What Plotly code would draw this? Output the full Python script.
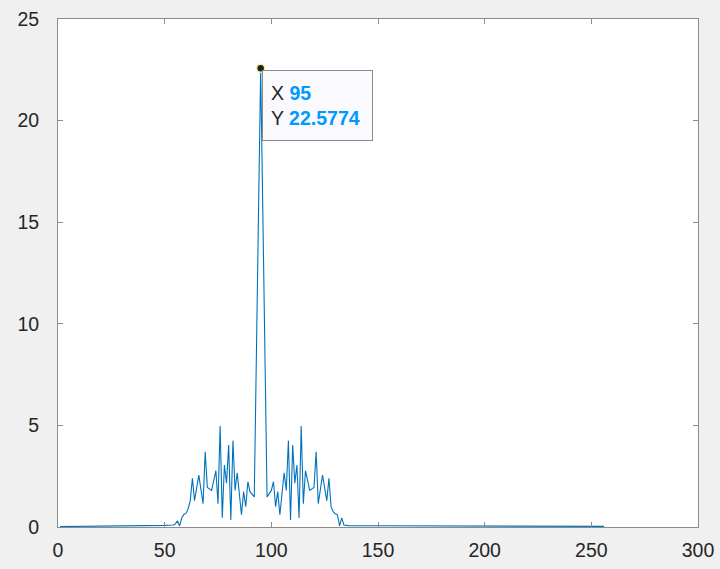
import plotly.graph_objects as go

# spectrum samples (index -> magnitude)
x_vals = [1, 20, 35, 45, 50, 54, 55, 56, 57, 58, 59, 60, 61, 62, 63, 64, 66, 68, 69, 70,
          72, 74, 75, 76, 77, 78, 79, 80, 81, 82, 83, 84, 86, 87, 88, 89, 90, 92, 95,
          98, 100, 101, 102, 103, 104, 106, 107, 108, 109, 110, 111, 112, 113, 114, 115,
          116, 118, 120, 121, 122, 124, 126, 127, 128, 129, 130, 131, 132, 133, 134, 135,
          136, 150, 200, 256]
y_vals = [0.02, 0.03, 0.05, 0.07, 0.08, 0.10, 0.15, 0.30, 0.05, 0.45, 0.62, 0.67, 0.90, 1.30,
          2.40, 1.30, 2.55, 1.15, 3.70, 1.95, 1.80, 2.77, 1.15, 4.97, 0.45, 3.05, 2.15, 4.03,
          0.34, 4.25, 1.80, 2.67, 0.60, 1.74, 1.00, 2.23, 1.74, 1.48, 22.5774,
          1.48, 1.80, 2.23, 1.00, 1.74, 0.60, 2.67, 1.80, 4.25, 0.34, 4.03, 2.15, 3.05, 0.45,
          4.97, 1.15, 2.77, 1.80, 1.95, 3.70, 1.15, 2.55, 1.30, 2.40, 1.00, 0.75, 0.65, 0.60,
          0.05, 0.45, 0.10, 0.08, 0.07, 0.06, 0.04, 0.03]

tip_x = 95
tip_y = 22.5774

x_ticks = [0, 50, 100, 150, 200, 250, 300]
y_ticks = [0, 5, 10, 15, 20, 25]

fig = go.Figure()
fig.add_trace(go.Scatter(x=x_vals, y=y_vals, mode="lines",
                         line=dict(color="#0072BD", width=1.1), hoverinfo="skip"))
fig.add_trace(go.Scatter(x=[tip_x], y=[tip_y], mode="markers",
                         marker=dict(color="#202020", size=8,
                                     line=dict(color="#f3eeb0", width=1.5)),
                         hoverinfo="skip"))

blue = "#0099FF"
fig.add_annotation(
    x=tip_x, y=tip_y, xref="x", yref="y",
    xanchor="left", yanchor="top", xshift=1, yshift=-2,
    showarrow=False, align="left", valign="middle",
    width=93, height=53, borderpad=8,
    bgcolor="#f9f9fe", bordercolor="#8a8a8a", borderwidth=1,
    font=dict(family="Liberation Sans, Arial", size=19.5, color="#262626"),
    text=f"X <b><span style='color:{blue}'>{tip_x}</span></b><br>"
         f"Y <b><span style='color:{blue}'>{tip_y}</span></b>",
)

axis_common = dict(
    showgrid=False, zeroline=False, showline=True, linecolor="#8c8c8c", linewidth=1,
    mirror="ticks", ticks="inside", ticklen=5, tickcolor="#8c8c8c", tickwidth=1,
    automargin=False,
    tickfont=dict(family="Liberation Sans, Arial", size=19.5, color="#262626"),
)
fig.update_xaxes(range=[0, 300], tickvals=x_ticks, ticktext=[str(t) for t in x_ticks],
                 ticklabelstandoff=6, **axis_common)
fig.update_yaxes(range=[0, 25], tickvals=y_ticks, ticktext=[str(t) for t in y_ticks],
                 ticklabelstandoff=14, **axis_common)

fig.update_layout(
    width=720, height=569,
    margin=dict(l=58, r=22, t=19, b=42),
    paper_bgcolor="#f0f0f0", plot_bgcolor="#ffffff",
    showlegend=False,
)
fig.write_html("out.html", config={"displayModeBar": False},
               post_script="document.body.style.margin='0';"
                           "document.body.style.background='#f0f0f0';")
